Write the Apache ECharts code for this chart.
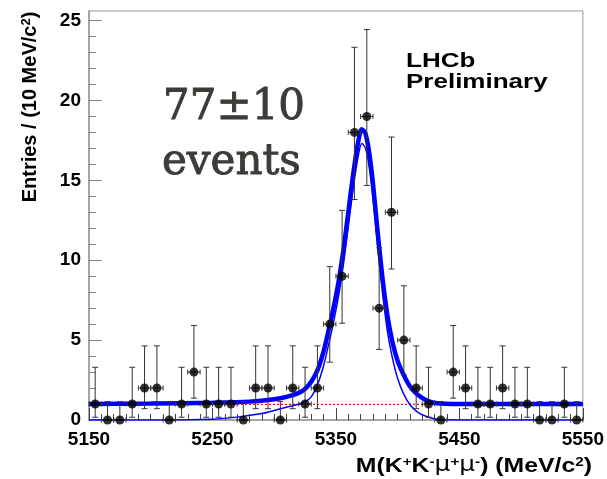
<!DOCTYPE html>
<html>
<head>
<meta charset="utf-8">
<script src="https://cdn.jsdelivr.net/npm/echarts@6/dist/echarts.min.js"></script>
<style>
  html, body { margin: 0; padding: 0; background: #fff; }
  #chart { width: 607px; height: 479px; }
</style>
</head>
<body>
<div id="chart"></div>
<script>
// bin centres (10 MeV bins) and entries per bin
const binCenters = [5155, 5165, 5175, 5185, 5195, 5205, 5215, 5225, 5235, 5245,
  5255, 5265, 5275, 5285, 5295, 5305, 5315, 5325, 5335, 5345,
  5355, 5365, 5375, 5385, 5395, 5405, 5415, 5425, 5435, 5445,
  5455, 5465, 5475, 5485, 5495, 5505, 5515, 5525, 5535, 5545]
const counts = [1, 0, 0, 1, 2, 2, 0, 1, 3, 1,
  1, 1, 0, 2, 2, 0, 2, 1, 2, 6,
  9, 18, 19, 7, 13, 5, 2, 1, 0, 3,
  2, 1, 1, 2, 1, 1, 0, 0, 1, 0]
// poisson error bar ends, by count
const errLow = { 0: 0, 1: 0.173, 2: 0.708, 3: 1.367, 5: 2.84, 6: 3.62, 7: 4.42, 9: 6.06, 13: 9.45, 18: 13.8, 19: 14.68 }
const errHigh = { 0: 1.148, 1: 3.3, 2: 4.638, 3: 5.918, 5: 8.4, 6: 9.6, 7: 10.78, 9: 13.12, 13: 17.71, 18: 23.33, 19: 24.44 }

// fit curves
const totalX = [5150, 5200, 5250, 5280, 5300, 5310, 5320, 5325, 5330, 5335, 5340, 5344, 5348, 5352, 5356, 5360, 5364, 5368,
  5371, 5374, 5377, 5380, 5384, 5388, 5392, 5396, 5400, 5405, 5410, 5416, 5424, 5432, 5445, 5550]
const totalY = [1.0, 1.03, 1.08, 1.15, 1.3, 1.45, 1.7, 1.95, 2.4, 3.1, 4.3, 5.6, 7.0, 8.6, 10.6, 13.0, 15.4, 17.4,
  18.2, 17.9, 16.7, 14.8, 11.6, 8.7, 6.4, 4.8, 3.7, 2.8, 2.1, 1.6, 1.2, 1.05, 1.0, 1.0]
const signalX = [5150, 5210, 5250, 5270, 5290, 5300, 5310, 5320, 5325, 5330, 5335, 5340, 5344, 5348, 5352, 5356, 5360, 5364,
  5368, 5371, 5374, 5377, 5380, 5384, 5388, 5392, 5396, 5400, 5405, 5410, 5416, 5424, 5432, 5445, 5550]
const signalY = [0, 0, 0.05, 0.18, 0.4, 0.6, 0.8, 1.0, 1.15, 1.45, 2.2, 3.4, 4.7, 6.1, 7.7, 9.7, 12.1, 14.5,
  16.5, 17.3, 17.0, 15.8, 13.9, 10.7, 7.8, 5.4, 3.8, 2.6, 1.6, 0.95, 0.5, 0.2, 0.05, 0, 0]
const bkgX = [5150, 5550]
const bkgY = [0.98, 0.98]

const xLabels = [5150, 5250, 5350, 5450, 5550]
const xMinor = [5160, 5170, 5180, 5190, 5200, 5210, 5220, 5230, 5240, 5260, 5270, 5280, 5290, 5300, 5310, 5320, 5330, 5340,
  5360, 5370, 5380, 5390, 5400, 5410, 5420, 5430, 5440, 5460, 5470, 5480, 5490, 5500, 5510, 5520, 5530, 5540]
const yLabels = [0, 5, 10, 15, 20, 25]
const yMinor = [1, 2, 3, 4, 6, 7, 8, 9, 11, 12, 13, 14, 16, 17, 18, 19, 21, 22, 23, 24]

const sans = 'Liberation Sans, Arial, sans-serif'

const pts = binCenters.map((x, i) => [x, counts[i], errLow[counts[i]], errHigh[counts[i]]])
const zip = (xs, ys) => xs.map((x, i) => [x, ys[i]])

function renderErr (params, api) {
  const x = api.value(0)
  const n = api.value(1)
  const top = api.coord([x, api.value(3)])
  const bot = api.coord([x, api.value(2)])
  const l = api.coord([x - 5, n])
  const r = api.coord([x + 5, n])
  const st = { stroke: '#333', lineWidth: 1 }
  const line = (x1, y1, x2, y2) => ({ type: 'line', shape: { x1, y1, x2, y2 }, style: st })
  return {
    type: 'group',
    children: [
      line(top[0], top[1], bot[0], bot[1]),
      line(top[0] - 3, top[1], top[0] + 3, top[1]),
      line(bot[0] - 3, bot[1], bot[0] + 3, bot[1]),
      line(l[0], l[1], r[0], r[1]),
      line(l[0], l[1] - 2.5, l[0], l[1] + 2.5),
      line(r[0], r[1] - 2.5, r[0], r[1] + 2.5)
    ]
  }
}

const chart = echarts.init(document.getElementById('chart'))
const option = {
  animation: false,
  grid: { left: 89, right: 21, top: 11, bottom: 59, show: true, borderColor: '#999', borderWidth: 1 },
  xAxis: [{
    type: 'value', min: 5150, max: 5550, interval: 50, position: 'bottom',
    axisLine: { lineStyle: { color: '#999', width: 1.5 } },
    axisTick: { inside: true, length: 12, customValues: xLabels, lineStyle: { color: '#444' } },
    axisLabel: {
      customValues: xLabels, margin: 10, color: '#000', fontFamily: sans, fontWeight: 'bold', fontSize: 19,
      formatter: v => String(v)
    },
    splitLine: { show: false }
  }, {
    type: 'value', min: 5150, max: 5550, interval: 10, position: 'bottom',
    axisLine: { show: false },
    axisTick: { inside: true, length: 6, customValues: xMinor, lineStyle: { color: '#444' } },
    axisLabel: { show: false },
    splitLine: { show: false }
  }],
  yAxis: [{
    type: 'value', min: 0, max: 25.6, interval: 5, position: 'left',
    axisLine: { show: true, lineStyle: { color: '#999', width: 1.5 } },
    axisTick: { show: true, inside: true, length: 13, customValues: yLabels, lineStyle: { color: '#888' } },
    axisLabel: { customValues: yLabels, margin: 8, color: '#000', fontFamily: sans, fontWeight: 'bold', fontSize: 19 },
    splitLine: { show: false }
  }, {
    type: 'value', min: 0, max: 25.6, interval: 1, position: 'left',
    axisLine: { show: false },
    axisTick: { show: true, inside: true, length: 7, customValues: yMinor, lineStyle: { color: '#888' } },
    axisLabel: { show: false },
    splitLine: { show: false }
  }],
  series: [
    {
      // background component
      type: 'line', data: zip(bkgX, bkgY), showSymbol: false, z: 1,
      lineStyle: { color: '#ff0000', width: 1.2, type: [2, 2] }
    },
    {
      // signal component
      type: 'line', data: zip(signalX, signalY), showSymbol: false, smooth: 0.3, z: 2,
      lineStyle: { color: '#0000ff', width: 1.5 }
    },
    {
      // total fit
      type: 'line', data: zip(totalX, totalY), showSymbol: false, smooth: 0.3, z: 3,
      lineStyle: { color: '#0000ff', width: 4.5 }
    },
    {
      type: 'custom', data: pts, renderItem: renderErr, z: 4, clip: false,
      encode: { x: 0, y: 1 }
    },
    {
      type: 'scatter', data: pts.map(p => [p[0], p[1]]), symbolSize: 9, clip: false, z: 5,
      itemStyle: { color: '#000' }
    }
  ],
  graphic: [
    {
      type: 'text', x: 30, y: 107, rotation: Math.PI / 2,
      style: {
        text: 'Entries / (10 MeV/c{sup|2})', align: 'center', verticalAlign: 'middle',
        fill: '#000', font: 'bold 20px ' + sans,
        rich: { sup: { fontSize: 13, fontWeight: 'bold', fontFamily: sans, verticalAlign: 'top', fill: '#000' } }
      }
    },
    {
      type: 'text', x: 592, y: 466, scaleX: 1.18,
      style: {
        text: 'M(K{sup|+}K{sup|-}{mu|μ}{sup|+}{mu|μ}{sup|-}) (MeV/c{sup|2})', align: 'right', verticalAlign: 'middle',
        fill: '#000', font: 'bold 21px ' + sans,
        rich: {
          sup: { fontSize: 13, fontWeight: 'bold', fontFamily: sans, verticalAlign: 'top', fill: '#000' },
          mu: { fontSize: 21, fontWeight: 'normal', fontFamily: 'DejaVu Sans', fill: '#000' }
        }
      }
    },
    {
      type: 'text', x: 406, y: 51, scaleX: 1.3,
      style: { text: 'LHCb\nPreliminary', lineHeight: 21, verticalAlign: 'top', fill: '#000', font: 'bold 20px ' + sans }
    },
    {
      type: 'text', x: 163, y: 108,
      style: { text: '77±10', verticalAlign: 'middle', fill: '#3c3b37', stroke: '#3c3b37', lineWidth: 0.9, font: '42px DejaVu Serif' }
    },
    {
      type: 'text', x: 162, y: 163,
      style: { text: 'events', verticalAlign: 'middle', fill: '#3c3b37', stroke: '#3c3b37', lineWidth: 0.9, font: '42px DejaVu Serif' }
    }
  ]
}
chart.setOption(option)
</script>
</body>
</html>
